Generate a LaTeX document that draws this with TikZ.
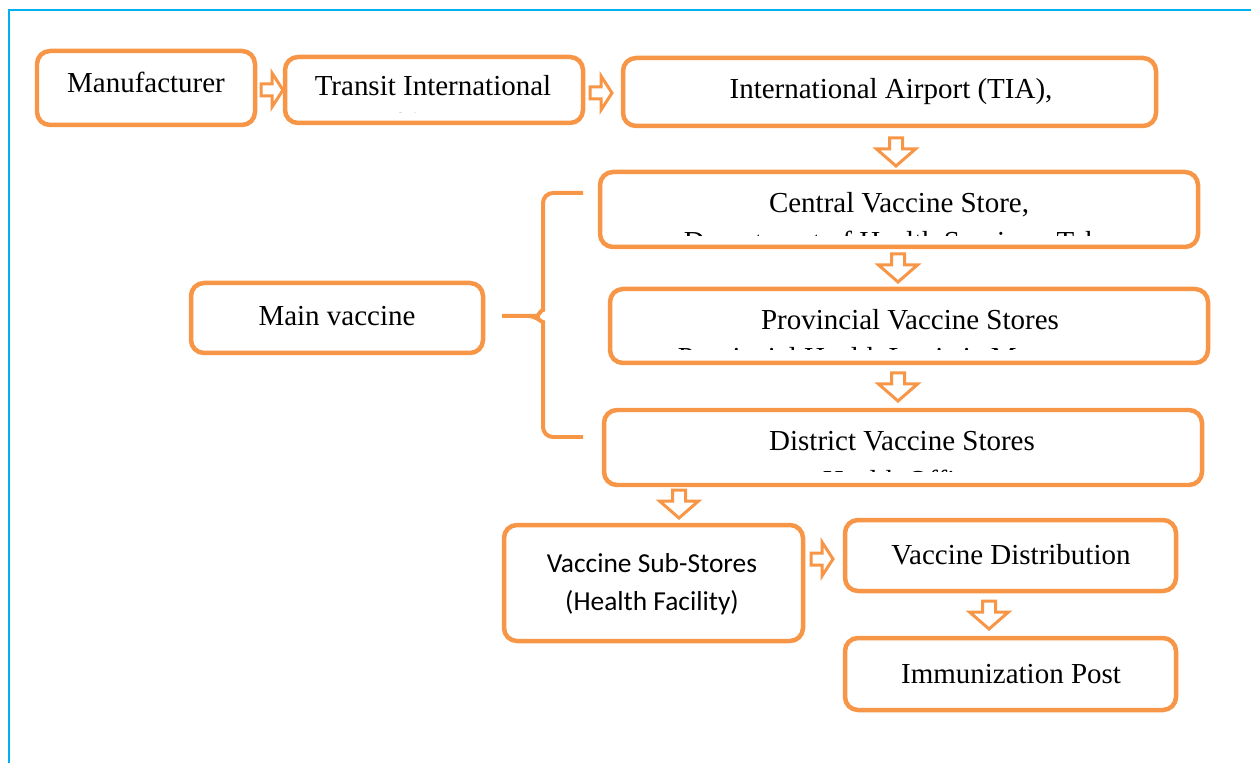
\documentclass[tikz,border=0pt]{standalone}
\usepackage{fontspec}
\setmainfont{Liberation Serif}
\newfontfamily\calibrifont{Carlito}
\usetikzlibrary{calc}
\definecolor{boxorange}{HTML}{F79646}
\definecolor{frameblue}{HTML}{00B0F0}
\begin{document}
\begin{tikzpicture}[x=0.02cm,y=-0.02cm,
  box/.style={draw=boxorange, line width=0.09cm, rounded corners=0.26cm, fill=white, inner sep=0pt},
  boxwh/.style 2 args={minimum width=#1*0.02cm, minimum height=#2*0.02cm},
  lbl/.style={anchor=base, inner sep=0pt, font=\fontsize{16.5}{20}\selectfont, text=black},
  sublbl/.style={anchor=base, inner sep=0pt, font=\calibrifont\fontsize{15.6}{19}\selectfont, text=black},
  blockarrow/.style={draw=boxorange, line width=0.06cm, fill=white, line join=miter},
  brace/.style={draw=boxorange, line width=0.08cm, rounded corners=0.2cm},
  frame/.style={draw=frameblue, line width=0.045cm},
  pics/downarr/.style={code={\path[blockarrow] (-6.5,0) -- (6.5,0) -- (6.5,11) -- (19.5,11) -- (0,28) -- (-19.5,11) -- (-6.5,11) -- cycle;}},
  pics/rightarr/.style={code={\path[blockarrow] (0,-6) -- (11,-6) -- (11,-17) -- (22,0) -- (11,17) -- (11,6) -- (0,6) -- cycle;}}
]
\useasboundingbox (0,0) rectangle (1251,763);

% outer frame
\draw[frame] (9,763) -- (9,10) -- (1251,10);

% boxes
\node[box, boxwh={218}{74}] (manuf) at (146,88) {};
\node[box, boxwh={298}{66}] (transit) at (434,90) {};
\node[box, boxwh={533}{68}] (airport) at (889.5,92) {};
\node[box, boxwh={598}{75}] (central) at (899,209.5) {};
\node[box, boxwh={598}{74}] (prov) at (909,326) {};
\node[box, boxwh={598}{75}] (district) at (903,447.5) {};
\node[box, boxwh={292}{70}] (mainv) at (337,318) {};
\node[box, boxwh={299}{116}] (sub) at (653.5,583) {};
\node[box, boxwh={331}{71}] (distrib) at (1010.5,555.5) {};
\node[box, boxwh={331}{72}] (immun) at (1010.5,674) {};

% labels
\node[lbl] (manuf-t) at (146,93) {Manufacturer};
\node[lbl] (transit-t) at (433,96) {Transit International};
\node[lbl] (airport-t) at (891,99) {International Airport (TIA),};
\node[lbl] (central-t) at (899,213) {Central Vaccine Store,};
\node[lbl] (prov-t) at (910,330) {Provincial Vaccine Stores};
\node[lbl] (district-t) at (902,451) {District Vaccine Stores};
\node[lbl] (mainv-t) at (337,326) {Main vaccine};
\node[sublbl] (sub-t1) at (652,572) {Vaccine Sub-Stores};
\node[sublbl] (sub-t2) at (652,610) {(Health Facility)};
\node[lbl] (distrib-t) at (1011,564) {Vaccine Distribution};
\node[lbl] (immun-t) at (1011,683) {Immunization Post};

% second lines cut off by the text area of their boxes
\begin{scope}
  \clip (290,60) rectangle (580,113);
  \node[lbl] (transit-t2) at (433,133) {Airport};
\end{scope}
\begin{scope}
  \clip (605,176) rectangle (1195,236);
  \node[lbl] (central-t2) at (899,252) {Department of Health Services, Teku};
\end{scope}
\begin{scope}
  \clip (615,293) rectangle (1205,350);
  \node[lbl] (prov-t2) at (910,368) {Provincial Health Logistic Management};
\end{scope}
\begin{scope}
  \clip (609,414) rectangle (1199,471);
  \node[lbl] (district-t2) at (902,490) {Health Office};
\end{scope}

% block arrows
\pic at (261,90) {rightarr};
\pic at (590,93) {rightarr};
\pic at (811,559) {rightarr};
\pic at (896,138) {downarr};
\pic at (898,254) {downarr};
\pic at (898,373) {downarr};
\pic at (679,490) {downarr};
\pic at (989,601) {downarr};

% brace joining the main vaccine stores
\coordinate (braceT) at (583,193);
\coordinate (braceB) at (583,437);
\coordinate (braceTip) at (502,316);
\draw[brace] (braceT) -- (543,193) -- (543,300) to[out=-90,in=0] (528,316) -- (braceTip);
\draw[brace] (528,316) to[out=0,in=90] (543,332) -- (543,437) -- (braceB);
\end{tikzpicture}
\end{document}
